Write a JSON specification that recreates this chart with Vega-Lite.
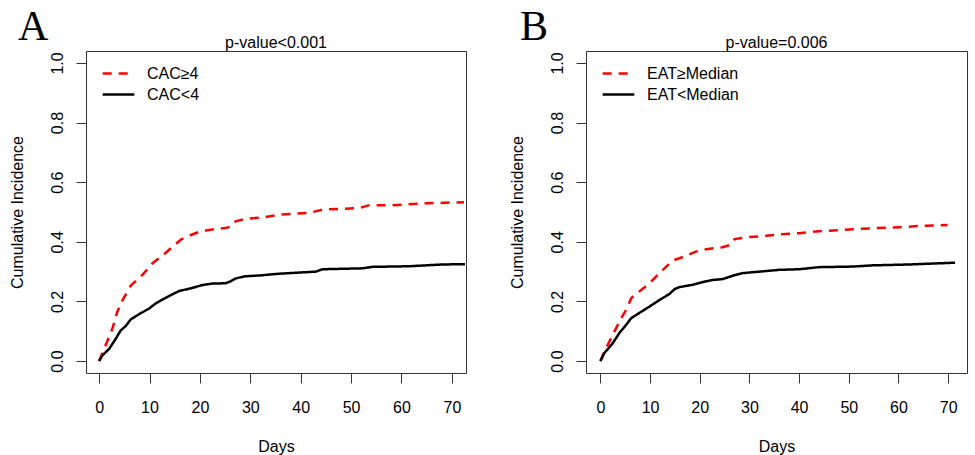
{
  "$schema": "https://vega.github.io/schema/vega-lite/v6.json",
  "background": "white",
  "padding": {"left": 8, "top": 5, "right": 0, "bottom": 0},
  "bounds": "flush",
  "spacing": 120,
  "resolve": {"scale": {"color": "independent", "strokeDash": "independent"}, "legend": {"color": "independent", "strokeDash": "independent"}},
  "config": {
    "font": "Liberation Sans",
    "view": {"stroke": "#333333", "strokeWidth": 1},
    "axis": {
      "grid": false, "domain": false, "tickSize": 10, "tickColor": "#333333", "tickWidth": 1,
      "labelFontSize": 16, "labelColor": "black", "labelFont": "Liberation Sans",
      "titleFontSize": 16, "titleFontWeight": "normal", "titleColor": "black", "titleFont": "Liberation Sans"
    },
    "axisX": {"labelPadding": 16, "titlePadding": 23},
    "axisY": {"labelAngle": -90, "labelAlign": "center", "labelBaseline": "alphabetic", "labelPadding": 14, "titlePadding": 24},
    "legend": {
      "orient": "top-left", "offset": 11.5, "padding": 0, "title": null,
      "symbolType": "stroke", "symbolSize": 1000, "symbolStrokeWidth": 2.5, "symbolOffset": 3,
      "labelFontSize": 16, "labelFont": "Liberation Sans", "labelColor": "black",
      "labelOffset": 11, "rowPadding": 0, "clipHeight": 21, "labelLimit": 300
    },
    "text": {"font": "Liberation Sans"}
  },
  "hconcat": [
    {
      "width": 380,
      "height": 322,
      "title": {"text": "A", "anchor": "start", "frame": "group", "dx": -68, "offset": -47, "fontSize": 42, "font": "Liberation Serif", "fontWeight": "normal", "baseline": "alphabetic", "color": "black"},
      "layer": [
        {
          "data": {"values": [
            {"group": "CAC≥4", "day": 0, "ci": 0},
            {"group": "CAC≥4", "day": 1, "ci": 0.041},
            {"group": "CAC≥4", "day": 2.65, "ci": 0.109},
            {"group": "CAC≥4", "day": 3.6, "ci": 0.165},
            {"group": "CAC≥4", "day": 4.76, "ci": 0.208},
            {"group": "CAC≥4", "day": 6.3, "ci": 0.253},
            {"group": "CAC≥4", "day": 8.6, "ci": 0.289},
            {"group": "CAC≥4", "day": 10.6, "ci": 0.328},
            {"group": "CAC≥4", "day": 12.6, "ci": 0.354},
            {"group": "CAC≥4", "day": 14.9, "ci": 0.388},
            {"group": "CAC≥4", "day": 16.2, "ci": 0.407},
            {"group": "CAC≥4", "day": 18.2, "ci": 0.423},
            {"group": "CAC≥4", "day": 19.8, "ci": 0.433},
            {"group": "CAC≥4", "day": 21.8, "ci": 0.44},
            {"group": "CAC≥4", "day": 25.1, "ci": 0.446},
            {"group": "CAC≥4", "day": 26.3, "ci": 0.452},
            {"group": "CAC≥4", "day": 27.1, "ci": 0.469},
            {"group": "CAC≥4", "day": 29.1, "ci": 0.477},
            {"group": "CAC≥4", "day": 33, "ci": 0.483},
            {"group": "CAC≥4", "day": 35.7, "ci": 0.491},
            {"group": "CAC≥4", "day": 41.7, "ci": 0.497},
            {"group": "CAC≥4", "day": 44.3, "ci": 0.508},
            {"group": "CAC≥4", "day": 51.6, "ci": 0.513},
            {"group": "CAC≥4", "day": 53.6, "ci": 0.523},
            {"group": "CAC≥4", "day": 58.2, "ci": 0.523},
            {"group": "CAC≥4", "day": 64.8, "ci": 0.529},
            {"group": "CAC≥4", "day": 72.4, "ci": 0.533},
            {"group": "CAC<4", "day": 0, "ci": 0},
            {"group": "CAC<4", "day": 0.66, "ci": 0.019},
            {"group": "CAC<4", "day": 2, "ci": 0.041},
            {"group": "CAC<4", "day": 3.3, "ci": 0.075},
            {"group": "CAC<4", "day": 4.3, "ci": 0.103},
            {"group": "CAC<4", "day": 5.3, "ci": 0.118},
            {"group": "CAC<4", "day": 6.3, "ci": 0.14},
            {"group": "CAC<4", "day": 7.9, "ci": 0.157},
            {"group": "CAC<4", "day": 9.9, "ci": 0.176},
            {"group": "CAC<4", "day": 11.2, "ci": 0.193},
            {"group": "CAC<4", "day": 13.2, "ci": 0.212},
            {"group": "CAC<4", "day": 14.9, "ci": 0.227},
            {"group": "CAC<4", "day": 15.9, "ci": 0.235},
            {"group": "CAC<4", "day": 18.2, "ci": 0.244},
            {"group": "CAC<4", "day": 20.5, "ci": 0.255},
            {"group": "CAC<4", "day": 22.5, "ci": 0.26},
            {"group": "CAC<4", "day": 25.1, "ci": 0.261},
            {"group": "CAC<4", "day": 25.9, "ci": 0.266},
            {"group": "CAC<4", "day": 27.1, "ci": 0.277},
            {"group": "CAC<4", "day": 28.8, "ci": 0.284},
            {"group": "CAC<4", "day": 31.7, "ci": 0.287},
            {"group": "CAC<4", "day": 35.7, "ci": 0.293},
            {"group": "CAC<4", "day": 43, "ci": 0.3},
            {"group": "CAC<4", "day": 44.3, "ci": 0.308},
            {"group": "CAC<4", "day": 52.2, "ci": 0.311},
            {"group": "CAC<4", "day": 54.2, "ci": 0.316},
            {"group": "CAC<4", "day": 61.5, "ci": 0.318},
            {"group": "CAC<4", "day": 68.1, "ci": 0.324},
            {"group": "CAC<4", "day": 72.6, "ci": 0.325}
          ]},
          "mark": {"type": "line", "strokeWidth": 2.5, "clip": true},
          "encoding": {
            "x": {"field": "day", "type": "quantitative", "scale": {"domain": [-2.6, 72.8], "nice": false, "zero": false},
                  "axis": {"values": [0, 10, 20, 30, 40, 50, 60, 70], "title": "Days"}},
            "y": {"field": "ci", "type": "quantitative", "scale": {"domain": [-0.04, 1.04], "nice": false, "zero": false},
                  "axis": {"values": [0, 0.2, 0.4, 0.6, 0.8, 1.0], "format": ".1f", "title": "Cumulative Incidence"}},
            "color": {"field": "group", "type": "nominal", "scale": {"domain": ["CAC≥4", "CAC<4"], "range": ["#ff0000", "#000000"]}},
            "strokeDash": {"field": "group", "type": "nominal", "scale": {"domain": ["CAC≥4", "CAC<4"], "range": [[9, 7], [1, 0]]}}
          }
        },
        {
          "data": {"values": [{"label": "p-value<0.001"}]},
          "mark": {"type": "text", "fontSize": 16, "baseline": "alphabetic", "align": "center", "color": "black"},
          "encoding": {
            "x": {"datum": 35.1},
            "y": {"datum": 1.049},
            "text": {"field": "label"}
          }
        }
      ]
    },
    {
      "width": 381,
      "height": 322,
      "title": {"text": "B", "anchor": "start", "frame": "group", "dx": -66, "offset": -47, "fontSize": 42, "font": "Liberation Serif", "fontWeight": "normal", "baseline": "alphabetic", "color": "black"},
      "layer": [
        {
          "data": {"values": [
            {"group": "EAT≥Median", "day": 0, "ci": 0},
            {"group": "EAT≥Median", "day": 0.8, "ci": 0.032},
            {"group": "EAT≥Median", "day": 2.15, "ci": 0.077},
            {"group": "EAT≥Median", "day": 4.2, "ci": 0.144},
            {"group": "EAT≥Median", "day": 5.2, "ci": 0.172},
            {"group": "EAT≥Median", "day": 6.2, "ci": 0.211},
            {"group": "EAT≥Median", "day": 7.8, "ci": 0.233},
            {"group": "EAT≥Median", "day": 9.9, "ci": 0.261},
            {"group": "EAT≥Median", "day": 11.9, "ci": 0.295},
            {"group": "EAT≥Median", "day": 14.5, "ci": 0.337},
            {"group": "EAT≥Median", "day": 16.8, "ci": 0.35},
            {"group": "EAT≥Median", "day": 19.2, "ci": 0.367},
            {"group": "EAT≥Median", "day": 21.3, "ci": 0.375},
            {"group": "EAT≥Median", "day": 24.6, "ci": 0.382},
            {"group": "EAT≥Median", "day": 26, "ci": 0.389},
            {"group": "EAT≥Median", "day": 27, "ci": 0.409},
            {"group": "EAT≥Median", "day": 29.3, "ci": 0.415},
            {"group": "EAT≥Median", "day": 33.3, "ci": 0.42},
            {"group": "EAT≥Median", "day": 36, "ci": 0.425},
            {"group": "EAT≥Median", "day": 40, "ci": 0.429},
            {"group": "EAT≥Median", "day": 43.4, "ci": 0.435},
            {"group": "EAT≥Median", "day": 48.7, "ci": 0.44},
            {"group": "EAT≥Median", "day": 54.1, "ci": 0.445},
            {"group": "EAT≥Median", "day": 60.2, "ci": 0.449},
            {"group": "EAT≥Median", "day": 64.2, "ci": 0.453},
            {"group": "EAT≥Median", "day": 69.9, "ci": 0.456},
            {"group": "EAT<Median", "day": 0, "ci": 0},
            {"group": "EAT<Median", "day": 0.8, "ci": 0.027},
            {"group": "EAT<Median", "day": 2.5, "ci": 0.06},
            {"group": "EAT<Median", "day": 3.8, "ci": 0.094},
            {"group": "EAT<Median", "day": 5.2, "ci": 0.122},
            {"group": "EAT<Median", "day": 6.2, "ci": 0.144},
            {"group": "EAT<Median", "day": 7.8, "ci": 0.161},
            {"group": "EAT<Median", "day": 9.9, "ci": 0.183},
            {"group": "EAT<Median", "day": 11.9, "ci": 0.205},
            {"group": "EAT<Median", "day": 13.9, "ci": 0.225},
            {"group": "EAT<Median", "day": 14.9, "ci": 0.241},
            {"group": "EAT<Median", "day": 15.9, "ci": 0.248},
            {"group": "EAT<Median", "day": 18.6, "ci": 0.256},
            {"group": "EAT<Median", "day": 20.6, "ci": 0.265},
            {"group": "EAT<Median", "day": 22.6, "ci": 0.272},
            {"group": "EAT<Median", "day": 24.6, "ci": 0.275},
            {"group": "EAT<Median", "day": 26.6, "ci": 0.286},
            {"group": "EAT<Median", "day": 28.6, "ci": 0.295},
            {"group": "EAT<Median", "day": 32, "ci": 0.3},
            {"group": "EAT<Median", "day": 36, "ci": 0.306},
            {"group": "EAT<Median", "day": 40, "ci": 0.308},
            {"group": "EAT<Median", "day": 44, "ci": 0.315},
            {"group": "EAT<Median", "day": 50.8, "ci": 0.317},
            {"group": "EAT<Median", "day": 54.8, "ci": 0.321},
            {"group": "EAT<Median", "day": 62.2, "ci": 0.324},
            {"group": "EAT<Median", "day": 71.4, "ci": 0.33}
          ]},
          "mark": {"type": "line", "strokeWidth": 2.5, "clip": true},
          "encoding": {
            "x": {"field": "day", "type": "quantitative", "scale": {"domain": [-2.9, 73.8], "nice": false, "zero": false},
                  "axis": {"values": [0, 10, 20, 30, 40, 50, 60, 70], "title": "Days"}},
            "y": {"field": "ci", "type": "quantitative", "scale": {"domain": [-0.04, 1.04], "nice": false, "zero": false},
                  "axis": {"values": [0, 0.2, 0.4, 0.6, 0.8, 1.0], "format": ".1f", "title": "Cumulative Incidence"}},
            "color": {"field": "group", "type": "nominal", "scale": {"domain": ["EAT≥Median", "EAT<Median"], "range": ["#ff0000", "#000000"]}},
            "strokeDash": {"field": "group", "type": "nominal", "scale": {"domain": ["EAT≥Median", "EAT<Median"], "range": [[9, 7], [1, 0]]}}
          }
        },
        {
          "data": {"values": [{"label": "p-value=0.006"}]},
          "mark": {"type": "text", "fontSize": 16, "baseline": "alphabetic", "align": "center", "color": "black"},
          "encoding": {
            "x": {"datum": 35.45},
            "y": {"datum": 1.049},
            "text": {"field": "label"}
          }
        }
      ]
    }
  ]
}
